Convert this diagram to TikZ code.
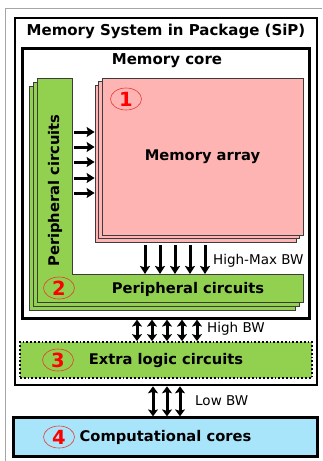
\documentclass[tikz,border=0pt]{standalone}
\usepackage{fontspec}
\setmainfont{DejaVu Sans}
\usetikzlibrary{arrows.meta,shapes.geometric,positioning}
\definecolor{arraypink}{RGB}{255,180,180}
\definecolor{periphgreen}{RGB}{146,208,80}
\definecolor{coreblue}{RGB}{168,228,250}
\definecolor{numred}{RGB}{230,60,50}
\definecolor{edgegrey}{RGB}{60,60,60}
\newcommand{\boxfont}{\fontsize{14.7}{17}\selectfont\bfseries}
\tikzset{
    % layered boxes (memory array, peripheral L)
    arraybox/.style={
        rectangle, draw=edgegrey, fill=arraypink,
        line width=0.8pt, inner sep=0pt, font=\boxfont
    },
    periph/.style={draw=edgegrey, fill=periphgreen, line width=0.8pt},
    % outer frames
    sipbox/.style={rectangle, draw=black, line width=2.6pt, inner sep=0pt},
    corebox/.style={rectangle, draw=black, line width=2.2pt, inner sep=0pt},
    logicbox/.style={
        rectangle, draw=black, fill=periphgreen, dotted,
        line width=1.8pt, inner sep=0pt, font=\boxfont
    },
    compbox/.style={
        rectangle, draw=black, fill=coreblue,
        line width=2.2pt, inner sep=0pt, font=\boxfont
    },
    % numbered markers
    numcirc/.style={
        ellipse, draw=numred, line width=0.6pt, text=red,
        minimum width=31pt, minimum height=22pt, inner sep=0pt,
        font=\fontsize{19.5}{21}\selectfont\bfseries
    },
    boxtext/.style={font=\boxfont, inner sep=0pt},
    bwtext/.style={font=\fontsize{13.5}{15}\selectfont, anchor=west, inner sep=0pt},
    % data paths
    onearrow/.style={line width=3pt, -{Stealth[length=8pt,width=10pt,inset=1.5pt]}},
    twoarrow/.style={line width=3pt, {Stealth[length=7pt,width=10pt,inset=1.5pt]}-{Stealth[length=7pt,width=10pt,inset=1.5pt]}},
}
\begin{document}
\begin{tikzpicture}[x=1pt,y=-1pt]
  \useasboundingbox (0,0) rectangle (322,461);
  % --- page frame ---
  \draw[black!35,line width=0.8pt] (5,461) -- (5,8) -- (322,8);

  % --- package and memory core ---
  \node[sipbox,minimum width=302pt,minimum height=367pt] (sip) at (166,201.5) {};
  \node[font=\fontsize{15}{17}\selectfont\bfseries] (siptitle) at (166,31) {Memory System in Package (SiP)};
  \node[corebox,minimum width=287pt,minimum height=270pt] (core) at (166,183.5) {};
  \node[font=\fontsize{15}{17}\selectfont\bfseries] (coretitle) at (167,61) {Memory core};

  % --- peripheral circuits (L shape, three layers) ---
  \foreach \s in {2,1,0}{
    \draw[periph,shift={(-4*\s,4*\s)}]
      (37,78) -- (72,78) -- (72,274) -- (303,274) -- (303,302) -- (37,302) -- cycle;
  }
  \node[boxtext,rotate=90] (pvert) at (55,190.5) {Peripheral circuits};
  \node[boxtext] (phor) at (188,289) {Peripheral circuits};
  \node[numcirc] (n2) at (59,288) {2};

  % --- memory array (three layers) ---
  \foreach \s in {2,1}{
    \node[arraybox,minimum width=201pt,minimum height=157pt] (arr\s) at (202.5-3.5*\s,156.5+3.5*\s) {};
  }
  \node[arraybox,minimum width=201pt,minimum height=157pt] (arr0) at (202.5,156.5) {Memory array};
  \node[numcirc] (n1) at (126,99) {1};

  % row/column paths from the peripheral circuits
  \foreach \y in {132,147,162,178,193}{\draw[onearrow] (74,\y) -- (arr2.west |- 0,\y);}
  \foreach \x in {145,160,175,190,205}{\draw[onearrow] (\x,0 |- arr2.south) ++(0,3) -- (\x,274);}
  \node[bwtext] (bwmax) at (213,261) {High-Max BW};

  % --- extra logic ---
  \node[logicbox,minimum width=292pt,minimum height=36pt] (extra) at (166,360) {Extra logic circuits};
  \node[numcirc] (n3) at (58,360) {3};
  \foreach \x in {137,152,167,182,197}{\draw[twoarrow] (\x,0 |- core.south) -- (\x,0 |- extra.north);}
  \node[bwtext] (bwhigh) at (207,329) {High BW};

  % --- computational cores ---
  \node[compbox,minimum width=304pt,minimum height=39pt] (comp) at (165.5,437) {Computational cores};
  \node[numcirc] (n4) at (59,437) {4};
  \foreach \x in {153,167,180}{\draw[twoarrow] (\x,0 |- sip.south) -- (\x,0 |- comp.north);}
  \node[bwtext] (bwlow) at (195,401) {Low BW};
\end{tikzpicture}
\end{document}
